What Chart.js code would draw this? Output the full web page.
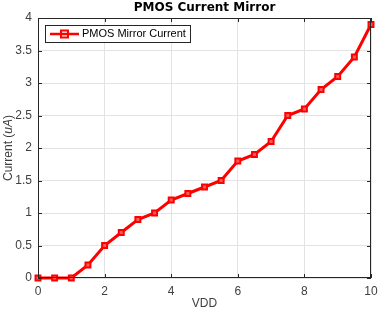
<!DOCTYPE html>
<html>
<head>
<meta charset="utf-8">
<script src="https://cdn.jsdelivr.net/npm/chart.js@4"></script>
<style>
  html, body { margin: 0; padding: 0; background: #fff; }
  #wrap { width: 385px; height: 316px; }
</style>
</head>
<body>
<div id="wrap"><canvas id="chart" width="385" height="316"></canvas></div>
<script>
// datos
const vdd = [0, 0.5, 1, 1.5, 2, 2.5, 3, 3.5, 4, 4.5, 5, 5.5, 6, 6.5, 7, 7.5, 8, 8.5, 9, 9.5, 10];
const current = [0, 0, 0, 0.2, 0.5, 0.7, 0.9, 1.0, 1.2, 1.3, 1.4, 1.5, 1.8, 1.9, 2.1, 2.5, 2.6, 2.9, 3.1, 3.4, 3.9];
const xTicks = [0, 2, 4, 6, 8, 10];
const yTicks = [0, 0.5, 1, 1.5, 2, 2.5, 3, 3.5, 4];
const seriesLabel = 'PMOS Mirror Current';
const titleText = 'PMOS Current Mirror';

const RED = '#ff0000';
const AXIS = '#262626';
const TEXT = '#404040';
const FONT = '"Liberation Sans", Arial, sans-serif';

// caja de ejes, ticks hacia adentro, titulos y leyenda estilo MATLAB
const matlabBox = {
    id: 'matlabBox',
    afterDraw(chart) {
        const { ctx, chartArea: a, scales } = chart;
        ctx.save();
        ctx.strokeStyle = AXIS;
        ctx.lineWidth = 1;
        ctx.strokeRect(a.left + 0.5, a.top + 0.5, a.right - a.left - 1, a.bottom - a.top - 1);

        // ticks hacia adentro
        ctx.beginPath();
        xTicks.forEach(v => {
            const x = Math.round(scales.x.getPixelForValue(v)) + 0.5;
            ctx.moveTo(x, a.bottom); ctx.lineTo(x, a.bottom - 4);
            ctx.moveTo(x, a.top); ctx.lineTo(x, a.top + 4);
        });
        yTicks.forEach(v => {
            const y = Math.round(scales.y.getPixelForValue(v)) + 0.5;
            ctx.moveTo(a.left, y); ctx.lineTo(a.left + 4, y);
            ctx.moveTo(a.right, y); ctx.lineTo(a.right - 4, y);
        });
        ctx.stroke();

        // titulo
        ctx.fillStyle = '#000';
        ctx.font = 'bold 12px "DejaVu Sans", sans-serif';
        ctx.textAlign = 'center';
        ctx.textBaseline = 'middle';
        ctx.fillText(titleText, (a.left + a.right) / 2, 8);

        // titulo eje x
        ctx.fillStyle = TEXT;
        ctx.font = '12px ' + FONT;
        ctx.fillText('VDD', (a.left + a.right) / 2, 304);

        // titulo eje y con (uA) en cursiva
        ctx.save();
        ctx.translate(9, (a.top + a.bottom) / 2);
        ctx.rotate(-Math.PI / 2);
        const p1 = 'Current (', p2 = 'uA', p3 = ')';
        const fN = '12px ' + FONT;
        const fI = 'italic 12px ' + FONT;
        ctx.font = fN; const w1 = ctx.measureText(p1).width; const w3 = ctx.measureText(p3).width;
        ctx.font = fI; const w2 = ctx.measureText(p2).width;
        let x0 = -(w1 + w2 + w3) / 2;
        ctx.textAlign = 'left';
        ctx.font = fN; ctx.fillText(p1, x0, 0); x0 += w1;
        ctx.font = fI; ctx.fillText(p2, x0, 0); x0 += w2;
        ctx.font = fN; ctx.fillText(p3, x0, 0);
        ctx.restore();

        // leyenda
        const lx = a.left + 7, ly = a.top + 7, lw = 145, lh = 17;
        ctx.fillStyle = '#fff';
        ctx.fillRect(lx, ly, lw, lh);
        ctx.strokeStyle = AXIS;
        ctx.strokeRect(lx + 0.5, ly + 0.5, lw, lh);
        const cy = ly + lh / 2 + 0.5;
        ctx.strokeStyle = RED;
        ctx.lineWidth = 2.5;
        ctx.beginPath(); ctx.moveTo(lx + 5, cy); ctx.lineTo(lx + 34, cy); ctx.stroke();
        ctx.lineWidth = 2;
        ctx.strokeRect(lx + 16, cy - 3.5, 7, 7);
        ctx.fillStyle = '#000';
        ctx.font = '11px ' + FONT;
        ctx.textAlign = 'left';
        ctx.fillText(seriesLabel, lx + 37, cy);
        ctx.restore();
    }
};

new Chart(document.getElementById('chart'), {
    type: 'line',
    data: {
        datasets: [{
            label: seriesLabel,
            data: vdd.map((v, i) => ({ x: v, y: current[i] })),
            borderColor: RED,
            borderWidth: 3,
            pointStyle: 'rect',
            pointRadius: 3.5,
            pointBorderWidth: 2,
            pointBorderColor: RED,
            pointBackgroundColor: 'rgba(255,90,90,1)',
            tension: 0,
            clip: false
        }]
    },
    options: {
        responsive: false,
        animation: false,
        events: [],
        layout: { padding: { top: 18, right: 14, left: 0, bottom: 0 } },
        plugins: { legend: { display: false }, title: { display: false }, tooltip: { enabled: false } },
        scales: {
            x: {
                type: 'linear', min: 0, max: 10,
                afterFit: s => { s.height = 38; },
                afterBuildTicks: s => { s.ticks = xTicks.map(v => ({ value: v })); },
                grid: { color: '#e3e3e3', drawTicks: false },
                border: { display: false },
                ticks: { color: TEXT, padding: 6, font: { size: 12, family: FONT }, maxRotation: 0, callback: v => String(v) }
            },
            y: {
                type: 'linear', min: 0, max: 4,
                afterFit: s => { s.width = 38; },
                afterBuildTicks: s => { s.ticks = yTicks.map(v => ({ value: v })); },
                grid: { color: '#e3e3e3', drawTicks: false },
                border: { display: false },
                ticks: { color: TEXT, padding: 6, font: { size: 12, family: FONT }, callback: v => String(v) }
            }
        }
    },
    plugins: [matlabBox]
});
</script>
</body>
</html>
